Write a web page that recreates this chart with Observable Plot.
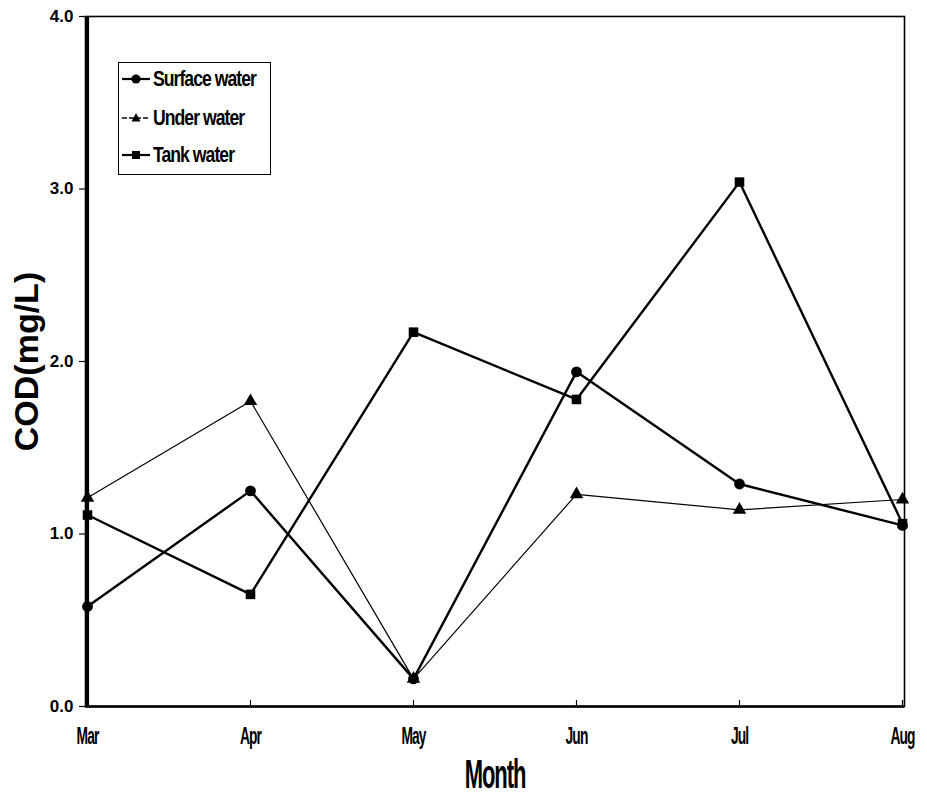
<!DOCTYPE html>
<html>
<head>
<meta charset="utf-8">
<script src="https://cdn.jsdelivr.net/npm/d3@7"></script>
<script src="https://cdn.jsdelivr.net/npm/@observablehq/plot@0.6"></script>
<style>
  html, body { margin: 0; padding: 0; background: #fff; }
  #wrap { position: relative; width: 927px; height: 799px; }
  #legend { position: absolute; left: 118px; top: 62px; width: 153px; height: 113px;
    border: 1.5px solid #000; background: #fff; box-sizing: border-box; }
  .item { position: absolute; left: 2px; height: 22px; display: flex; align-items: center;
    white-space: nowrap; color: #000; }
  .item svg { margin-right: 2px; }
  .item span { display: inline-block; font-family: "Liberation Sans", Arial, sans-serif; font-weight: bold;
    font-size: 22px; letter-spacing: -1.2px; transform: scaleX(0.8); transform-origin: left center; }
</style>
</head>
<body>
<div id="wrap"></div>
<script>
const months = ["Mar", "Apr", "May", "Jun", "Jul", "Aug"];
const seriesNames = ["Surface water", "Under water", "Tank water"];
const surface = [0.58, 1.25, 0.16, 1.94, 1.29, 1.05];
const under   = [1.21, 1.77, 0.16, 1.23, 1.14, 1.20];
const tank    = [1.11, 0.65, 2.17, 1.78, 3.04, 1.06];
const yTicks = [0, 1, 2, 3, 4];

const symbols = {"Surface water": "circle", "Under water": "triangle", "Tank water": "square"};
const widths = {"Surface water": 2.4, "Under water": 1.2, "Tank water": 2.4};
const seriesVals = [surface, under, tank];

const data = [];
seriesNames.forEach((s, i) => months.forEach((m, j) => data.push({series: s, month: m, value: seriesVals[i][j]})));

const marks = [];
for (const s of seriesNames) {
  const d = data.filter(r => r.series === s);
  marks.push(Plot.line(d, {x: "month", y: "value", stroke: "#000", strokeWidth: widths[s]}));
}
for (const s of seriesNames) {
  const d = data.filter(r => r.series === s);
  marks.push(Plot.dot(d, {x: "month", y: "value", symbol: () => symbols[s], fill: "#000", stroke: "none",
    r: s === "Under water" ? 5 : 5.4}));
}

const condensed = "Liberation Sans, Arial, sans-serif";
const chart = Plot.plot({
  width: 927,
  height: 799,
  marginLeft: 85,
  marginRight: 23,
  marginTop: 16,
  marginBottom: 93,
  style: {background: "#fff", overflow: "visible"},
  x: {type: "point", domain: months, padding: 0},
  y: {domain: [0, 4]},
  symbol: {type: "identity"},
  marks: [
    Plot.frame({stroke: "#000", strokeWidth: 1.6}),
    Plot.ruleX([months[0]], {stroke: "#000", strokeWidth: 3.2}),
    Plot.ruleY([0], {stroke: "#000", strokeWidth: 2.4}),
    Plot.axisY({ticks: yTicks, tickSize: 6, tickPadding: 6, tickFormat: d => d.toFixed(1),
      fontSize: 17, fontWeight: "bold", fontFamily: "Liberation Sans, Arial, sans-serif",
      label: null, stroke: "#000", strokeWidth: 1.2}),
    Plot.axisX({tickSize: -6, tickPadding: 27, fontSize: 23, fontWeight: "bold",
      fontFamily: condensed, label: null, stroke: "#000", strokeWidth: 1.2}),
    Plot.text(["Month"], {frameAnchor: "bottom", dy: 81, fontSize: 40, fontWeight: "bold",
      fontFamily: condensed, fill: "#000"}),
    Plot.text(["COD(mg/L)"], {frameAnchor: "left", textAnchor: "middle", dx: -58, rotate: -90, fontSize: 34, fontWeight: "bold",
      fontFamily: "Liberation Sans, Arial, sans-serif", fill: "#000"}),
    ...marks
  ]
});

// condense x-axis tick labels and the x title to look like a narrow font
const svg = d3.select(chart);
svg.selectAll('[aria-label="x-axis tick label"] text').each(function() {
  const t = this.getAttribute("transform") || "";
  this.setAttribute("transform", t + " scale(0.6,1)");
  this.setAttribute("letter-spacing", "-1.5");
});
svg.selectAll('[aria-label="text"] text').filter(function() { return this.textContent === "Month"; }).each(function() {
  const t = this.getAttribute("transform") || "";
  this.setAttribute("transform", t + " scale(0.55,1)");
  this.setAttribute("letter-spacing", "-2");
});

const wrap = document.getElementById("wrap");
wrap.appendChild(chart);

// legend
const legend = document.createElement("div");
legend.id = "legend";
const legendTops = [5, 44, 81];
const markerSvg = {
  "circle": '<circle cx="15" cy="8" r="4.6" fill="#000"/>',
  "triangle": '<path d="M15 3 L19.5 11.5 L10.5 11.5 Z" fill="#000"/>',
  "square": '<rect x="11" y="4" width="8" height="8" fill="#000"/>'
};
seriesNames.forEach((s, i) => {
  const it = document.createElement("div");
  it.className = "item";
  it.style.top = legendTops[i] + "px";
  it.innerHTML = `<svg width="30" height="16"><line x1="1" x2="29" y1="8" y2="8" stroke="#000" stroke-width="${s === "Under water" ? 1.3 : 2.2}" ${s === "Under water" ? 'stroke-dasharray="5,2"' : ''}/>${markerSvg[symbols[s]]}</svg><span>${s}</span>`;
  legend.appendChild(it);
});
wrap.appendChild(legend);
</script>
</body>
</html>
